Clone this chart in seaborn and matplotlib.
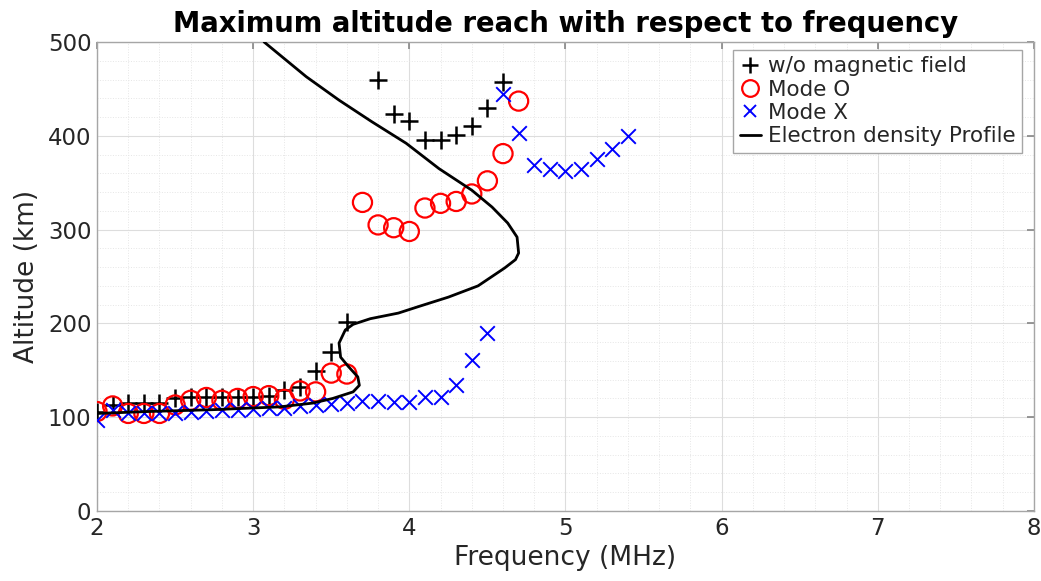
import numpy as np
import pandas as pd
import matplotlib
matplotlib.use("Agg")
import matplotlib.pyplot as plt
from matplotlib.lines import Line2D
from matplotlib.ticker import MultipleLocator
import seaborn as sns

# ---- data ----
nomag_freq = [2.0, 2.1, 2.2, 2.3, 2.4, 2.5, 2.6, 2.7, 2.8, 2.9, 3.0, 3.1, 3.2, 3.3, 3.4, 3.5, 3.6,
              3.8, 3.9, 4.0, 4.1, 4.2, 4.3, 4.4, 4.5, 4.6]
nomag_alt = [106, 113, 115, 115, 115, 120, 122, 122, 121, 121, 122, 123, 129, 132, 149, 169, 201,
             460, 423, 416, 395, 396, 401, 410, 430, 457]

modeO_freq = [2.0, 2.1, 2.2, 2.3, 2.4, 2.5, 2.6, 2.7, 2.8, 2.9, 3.0, 3.1, 3.2, 3.3, 3.4, 3.5, 3.6,
              3.7, 3.8, 3.9, 4.0, 4.1, 4.2, 4.3, 4.4, 4.5, 4.6, 4.7]
modeO_alt = [106, 112, 104, 104, 104, 113, 118, 121, 118, 120, 122, 123, 119, 128, 127, 147, 146,
             329, 305, 302, 298, 323, 328, 330, 338, 352, 381, 437]

modeX_freq = [2.0, 2.1, 2.2, 2.3, 2.4, 2.5, 2.6, 2.7, 2.8, 2.9, 3.0, 3.1, 3.2, 3.3, 3.4, 3.5, 3.6,
              3.7, 3.8, 3.9, 4.0, 4.1, 4.2, 4.3, 4.4, 4.5, 4.6, 4.7, 4.8, 4.9, 5.0, 5.1, 5.2,
              5.3, 5.4]
modeX_alt = [97, 108, 105, 104, 105, 105, 106, 107, 108, 108, 109, 110, 110, 112, 113, 114, 115,
             117, 117, 116, 116, 122, 122, 134, 161, 190, 445, 403, 369, 365, 362, 365, 375,
             386, 400]

profile_freq = [3.07, 3.34, 3.55, 3.76, 3.98, 4.19, 4.40, 4.53, 4.63, 4.69, 4.70, 4.68, 4.61,
                4.44, 4.25, 4.06, 3.93, 3.75, 3.64, 3.59, 3.55, 3.56, 3.61, 3.67, 3.68, 3.64,
                3.51, 3.38, 3.17, 2.74, 2.32, 2.0]
profile_alt = [500, 463, 438, 415, 392, 365, 342, 324, 307, 292, 275, 268, 259,
               240, 228, 218, 211, 205, 199, 193, 179, 164, 154, 143, 134, 127,
               120, 115, 111, 108, 106, 104]

x_ticks = [2, 3, 4, 5, 6, 7, 8]
y_ticks = [0, 100, 200, 300, 400, 500]

# ---- style ----
sns.set_theme(style="white")
plt.rcParams['font.family'] = ['DejaVu Sans']

fig = plt.figure(figsize=(10.41, 5.81), dpi=100)
ax = fig.add_axes([0.0932, 0.1205, 0.900, 0.8072])

sns.scatterplot(x=nomag_freq, y=nomag_alt, marker='+', color='black', s=150,
                linewidth=1.8, ax=ax, zorder=3)
sns.scatterplot(x=modeO_freq, y=modeO_alt, marker='o', facecolor='none', edgecolor='red',
                s=190, linewidth=1.6, ax=ax, zorder=3)
sns.scatterplot(x=modeX_freq, y=modeX_alt, marker='x', color='blue', s=110,
                linewidth=1.4, ax=ax, zorder=3)
sns.lineplot(x=profile_freq, y=profile_alt, sort=False, estimator=None, color='black',
             linewidth=2, ax=ax, zorder=4)

ax.set_xlim(2, 8)
ax.set_ylim(0, 500)
ax.set_xticks(x_ticks)
ax.set_yticks(y_ticks)
ax.xaxis.set_minor_locator(MultipleLocator(0.2))
ax.yaxis.set_minor_locator(MultipleLocator(20))
ax.grid(True, which='major', color='#dddddd', linewidth=0.8, linestyle='-')
ax.grid(True, which='minor', color='#e6e6e6', linewidth=0.7, linestyle=':')
ax.set_axisbelow(True)

for sp in ax.spines.values():
    sp.set_color('#a6a6a6')
    sp.set_linewidth(1.0)
ax.tick_params(axis='both', which='major', direction='in', length=5, color='#8a8a8a',
               labelsize=16.5, labelcolor='#262626', top=True, right=True, pad=4)
ax.tick_params(axis='both', which='minor', length=0)

ax.set_xlabel('Frequency (MHz)', fontsize=19, color='#262626', labelpad=4)
ax.set_ylabel('Altitude (km)', fontsize=19, color='#262626', labelpad=6)
ax.set_title('Maximum altitude reach with respect to frequency', fontsize=19.8,
             fontweight='bold', color='black', pad=7)

handles = [
    Line2D([], [], marker='+', color='black', linestyle='none', markersize=12, markeredgewidth=1.8),
    Line2D([], [], marker='o', markerfacecolor='none', markeredgecolor='red', linestyle='none',
           markersize=12, markeredgewidth=1.6),
    Line2D([], [], marker='x', color='blue', linestyle='none', markersize=8, markeredgewidth=1.4),
    Line2D([], [], color='black', linewidth=2),
]
labels = ['w/o magnetic field', 'Mode O', 'Mode X', 'Electron density Profile']
leg = ax.legend(handles, labels, loc='upper right', fontsize=15.5, handlelength=1.0,
                handletextpad=0.3, borderpad=0.3, labelspacing=0.15, fancybox=False,
                framealpha=1, edgecolor='#a6a6a6', borderaxespad=0,
                bbox_to_anchor=(0.987, 0.983))
leg.get_frame().set_linewidth(1.0)

fig.savefig('out.png', dpi=100)
